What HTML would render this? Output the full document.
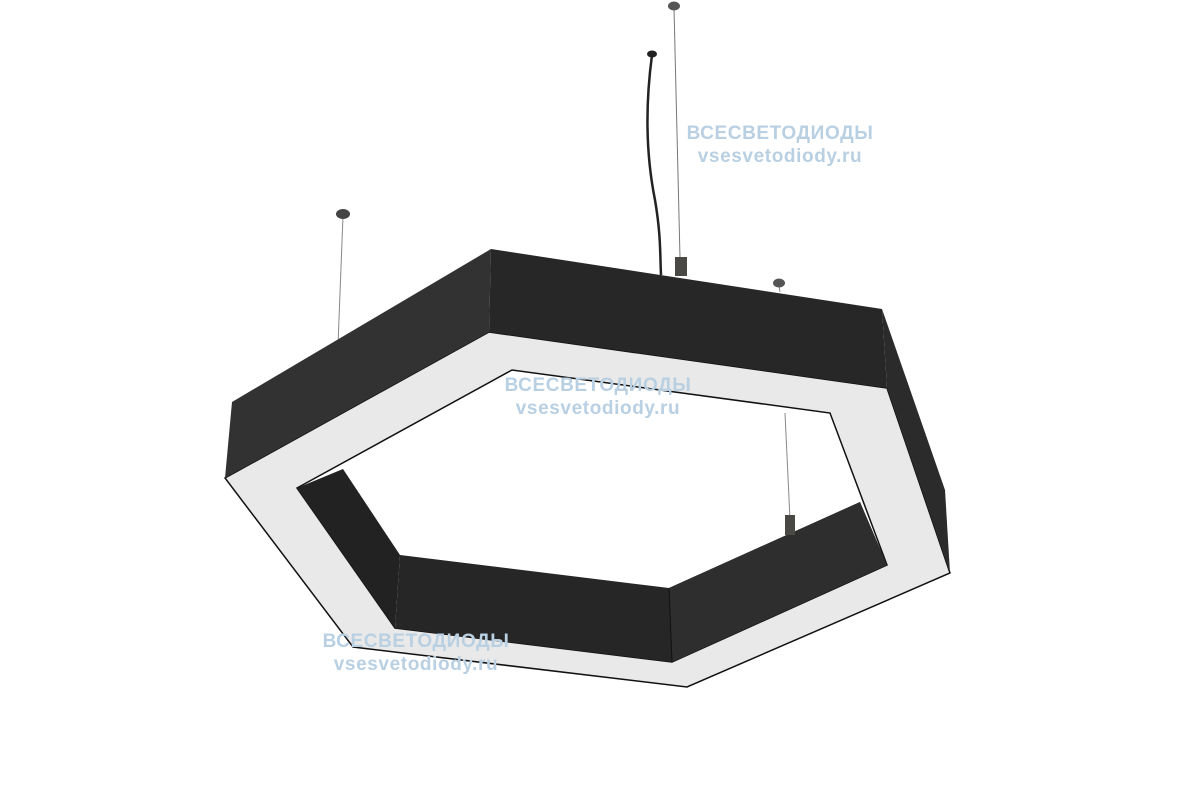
<!DOCTYPE html>
<html><head><meta charset="utf-8"><style>
html,body{margin:0;padding:0;background:#fff;}
svg{display:block}
.wm{font-family:"Liberation Sans",sans-serif;font-weight:bold;fill:#b9d0e3;font-size:19px;letter-spacing:0.6px;text-anchor:middle}
</style></head><body>
<svg width="1200" height="800" viewBox="0 0 1200 800">
<!-- wires -->
<line x1="674" y1="8" x2="680" y2="258" stroke="#777" stroke-width="1"/>
<ellipse cx="674" cy="6" rx="6" ry="4.5" fill="#555"/>
<path d="M652 55 C646 100,645 150,655 200 C661 235,660 255,661 275" stroke="#222" stroke-width="2.5" fill="none"/>
<ellipse cx="652" cy="54" rx="5" ry="3.5" fill="#222"/>
<rect x="675" y="257" width="12" height="19" fill="#4a4844"/>
<line x1="343" y1="216" x2="338" y2="345" stroke="#888" stroke-width="1"/>
<ellipse cx="343" cy="214" rx="7" ry="5" fill="#444"/>
<line x1="779" y1="285" x2="780" y2="292" stroke="#888" stroke-width="1"/>
<ellipse cx="779" cy="283" rx="6" ry="4.5" fill="#555"/>
<!-- white front face -->
<polygon points="225,478 489,332 887,388 950,573 687,687 353,647" fill="#e9e9e9" stroke="#111" stroke-width="1.5"/>
<!-- hole -->
<polygon points="297,488 512,370 830,413 887,565 672,662 395,628" fill="#fff" stroke="#111" stroke-width="1.5"/>
<line x1="785" y1="413" x2="790" y2="520" stroke="#888" stroke-width="1"/>
<!-- inner walls -->
<polygon points="297,488 343,469 400,555 395,628" fill="#222"/>
<polygon points="400,555 669,588 860,502 887,565 672,662 395,628" fill="#262626"/>
<polygon points="669,588 860,502 887,565 672,662" fill="#2e2e2e"/>
<line x1="669" y1="588" x2="672" y2="662" stroke="#111" stroke-width="1"/>
<rect x="785" y="515" width="10" height="20" fill="#4a4844"/>
<!-- top band -->
<polygon points="232,402 491,249 489,332 225,478" fill="#323232"/>
<polygon points="491,249 882,309 887,388 489,332" fill="#272727"/>
<polygon points="882,309 945,490 950,573 887,388" fill="#2b2b2b"/>
<!-- watermarks -->
<text class="wm" x="780" y="139">ВСЕСВЕТОДИОДЫ</text>
<text class="wm" x="780" y="162">vsesvetodiody.ru</text>
<text class="wm" x="598" y="391">ВСЕСВЕТОДИОДЫ</text>
<text class="wm" x="598" y="414">vsesvetodiody.ru</text>
<text class="wm" x="416" y="647">ВСЕСВЕТОДИОДЫ</text>
<text class="wm" x="416" y="670">vsesvetodiody.ru</text>
</svg>
</body></html>
